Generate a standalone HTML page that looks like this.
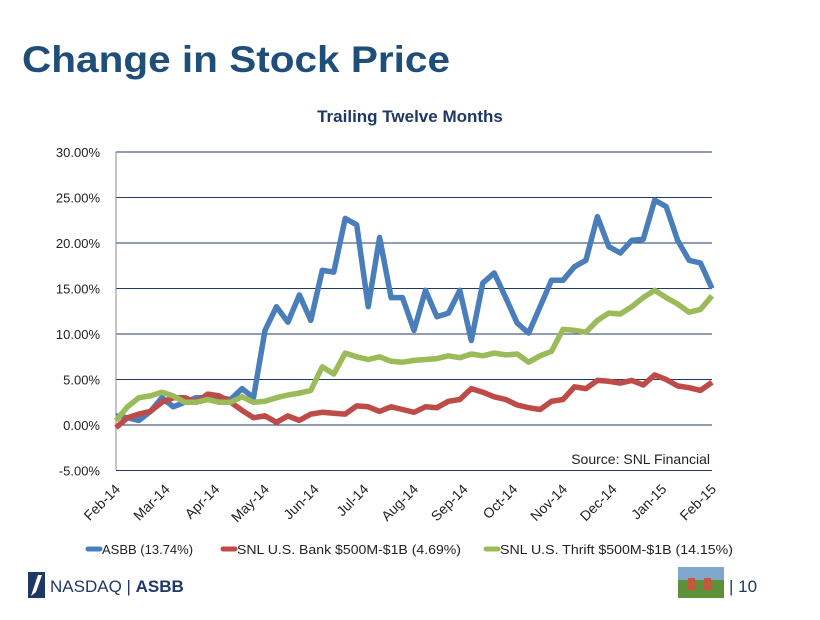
<!DOCTYPE html>
<html><head><meta charset="utf-8"><style>
body{margin:0;background:#fff;width:820px;height:615px;overflow:hidden;font-family:"Liberation Sans",sans-serif}
</style></head><body>
<svg id="svg" width="820" height="615" viewBox="0 0 820 615" xmlns="http://www.w3.org/2000/svg">
<text x="22" y="72" font-family="Liberation Sans, sans-serif" font-weight="bold" font-size="37" fill="#1F4E79" textLength="428" lengthAdjust="spacingAndGlyphs">Change in Stock Price</text>
<text x="410" y="122" text-anchor="middle" font-weight="bold" font-size="17" fill="#1F3864">Trailing Twelve Months</text>
<g id="grid"></g>
<g id="yticks"></g>
<g id="xticks"></g>
<line x1="116" y1="152" x2="116" y2="470" stroke="#888" stroke-width="1"/>
<g id="series"></g>
<rect x="545" y="447" width="170" height="22" fill="#fff"/>
<text x="710" y="464" text-anchor="end" font-size="14" fill="#222">Source:  SNL Financial</text>
<g>
<line x1="88" y1="549" x2="100" y2="549" stroke="#4A7EBB" stroke-width="5" stroke-linecap="round"/>
<text x="102" y="554" font-size="13" fill="#222">ASBB (13.74%)</text>
<line x1="223" y1="549" x2="235" y2="549" stroke="#BE4B48" stroke-width="5" stroke-linecap="round"/>
<text x="237" y="554" font-size="13" fill="#222" textLength="224" lengthAdjust="spacingAndGlyphs">SNL U.S. Bank $500M-$1B (4.69%)</text>
<line x1="486" y1="549" x2="498" y2="549" stroke="#9BBB59" stroke-width="5" stroke-linecap="round"/>
<text x="500" y="554" font-size="13" fill="#222" textLength="233" lengthAdjust="spacingAndGlyphs">SNL U.S. Thrift $500M-$1B (14.15%)</text>
</g>
<g>
<rect x="28" y="572" width="17" height="26" fill="#1F3864"/>
<path d="M31 596 L38 575 L42 575 L36 592 Z" fill="#fff"/>
<text x="50" y="592" font-size="17" fill="#1F3864">NASDAQ | <tspan font-weight="bold">ASBB</tspan></text>
</g>
<g>
<rect x="678" y="567" width="46" height="31" fill="#7FA7CC"/>
<rect x="678" y="580" width="46" height="18" fill="#5E8F3A"/>
<rect x="688" y="578" width="7" height="12" fill="#C8553D"/>
<rect x="704" y="578" width="7" height="12" fill="#C8553D"/>
</g>
<text x="729" y="592" font-size="17" fill="#1F3864">| 10</text>
</svg>
<script>
const yTicks = [30, 25, 20, 15, 10, 5, 0, -5];
const xLabels = ["Feb-14","Mar-14","Apr-14","May-14","Jun-14","Jul-14","Aug-14","Sep-14","Oct-14","Nov-14","Dec-14","Jan-15","Feb-15"];
const asbb = [1.0,0.8,0.5,1.5,3.0,2.0,2.5,3.0,3.0,3.0,2.8,4.0,3.0,10.4,13.0,11.3,14.3,11.5,17.0,16.8,22.7,22.0,13.0,20.6,14.0,14.0,10.4,14.8,11.9,12.3,14.8,9.3,15.6,16.7,14.0,11.2,10.1,13.0,15.9,15.9,17.4,18.1,22.9,19.6,18.9,20.3,20.4,24.7,24.0,20.3,18.1,17.8,15.0];
const bank = [-0.3,0.8,1.2,1.5,2.5,3.0,3.0,2.5,3.4,3.2,2.5,1.6,0.8,1.0,0.3,1.0,0.5,1.2,1.4,1.3,1.2,2.1,2.0,1.5,2.0,1.7,1.4,2.0,1.9,2.6,2.8,4.0,3.6,3.1,2.8,2.2,1.9,1.7,2.6,2.8,4.2,4.0,4.9,4.8,4.6,4.9,4.4,5.5,5.0,4.3,4.1,3.8,4.7];
const thrift = [0.5,2.0,3.0,3.2,3.6,3.2,2.5,2.5,2.8,2.5,2.5,3.1,2.5,2.6,3.0,3.3,3.5,3.8,6.4,5.6,7.9,7.5,7.2,7.5,7.0,6.9,7.1,7.2,7.3,7.6,7.4,7.8,7.6,7.9,7.7,7.8,6.9,7.6,8.1,10.5,10.4,10.2,11.5,12.3,12.2,13.0,14.0,14.8,14.0,13.3,12.4,12.7,14.2];
const seriesNames = ["asbb","bank","thrift"];
const seriesColors = ["#4A7EBB","#BE4B48","#9BBB59"];
const seriesData = [asbb, bank, thrift];

const NS = "http://www.w3.org/2000/svg";
const X0 = 116, X1 = 712, Y30 = 152, Y0 = 425;
function yScale(v){ return Y0 - (Y0 - Y30) * v / 30; }
function xScale(i, n){ return X0 + (X1 - X0) * i / (n - 1); }

const grid = document.getElementById('grid');
const yt = document.getElementById('yticks');
yTicks.forEach(t => {
  const l = document.createElementNS(NS,'line');
  l.setAttribute('x1', X0); l.setAttribute('x2', X1);
  l.setAttribute('y1', yScale(t)); l.setAttribute('y2', yScale(t));
  l.setAttribute('stroke', '#1F3864'); l.setAttribute('stroke-width', '1');
  
  
  grid.appendChild(l);
  const tx = document.createElementNS(NS,'text');
  tx.setAttribute('x', 100); tx.setAttribute('y', yScale(t) + 5);
  tx.setAttribute('text-anchor', 'end'); tx.setAttribute('font-size', '13'); tx.setAttribute('fill', '#222');
  tx.textContent = t.toFixed(2) + '%';
  
  
  yt.appendChild(tx);
});
const xt = document.getElementById('xticks');
xLabels.forEach((lab, i) => {
  const x = xScale(i, xLabels.length) + 5, y = 490;
  const tx = document.createElementNS(NS,'text');
  tx.setAttribute('x', x); tx.setAttribute('y', y);
  tx.setAttribute('text-anchor', 'end'); tx.setAttribute('font-size', '14'); tx.setAttribute('fill', '#222');
  tx.setAttribute('transform', 'rotate(-45 ' + x + ' ' + y + ')');
  tx.textContent = lab;
  
  
  xt.appendChild(tx);
});
const sg = document.getElementById('series');
seriesData.forEach((arr, k) => {
  const pts = arr.map((v, i) => xScale(i, arr.length).toFixed(1) + ',' + yScale(v).toFixed(1)).join(' ');
  const pl = document.createElementNS(NS,'polyline');
  pl.setAttribute('points', pts);
  pl.setAttribute('fill', 'none'); pl.setAttribute('stroke', seriesColors[k]);
  pl.setAttribute('stroke-width', '5.5'); pl.setAttribute('stroke-linejoin', 'round');
  
  
  sg.appendChild(pl);
});
</script>
</body></html>
